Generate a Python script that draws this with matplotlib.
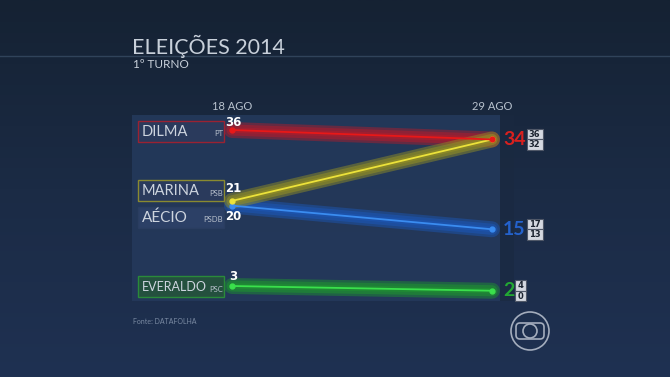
import matplotlib.pyplot as plt
import matplotlib.patches as mpatches
from matplotlib.colors import LinearSegmentedColormap
import numpy as np

# data
candidates = ['DILMA', 'MARINA', 'AÉCIO', 'EVERALDO']
parties = ['PT', 'PSB', 'PSDB', 'PSC']
date_labels = ['18 AGO', '29 AGO']
days = [18, 29]
poll_18 = [36, 21, 20, 3]
poll_29 = [34, 34, 15, 2]
upper_29 = [36, 36, 17, 4]
lower_29 = [32, 32, 13, 0]

# styles
band_col = ['#a81e2e', '#8f8c26', '#1c55b0', '#1f8e32']
line_col = ['#e81818', '#ece23a', '#3a8cf0', '#3ae04c']
text_col = ['#d8201e', '#d8c020', '#2462cc', '#22a833']
box_edge = ['#9a2232', '#8a8a30', '#2a3d60', '#2a8a3a']
box_fill = ['#2a3a5c', '#2a3a5c', '#2c4066', '#24503e']
name_y = [131, 190, 217, 286]          # label box centres, px
name_size = [10.5, 10.5, 11, 9]
val_off = [-8, -12, 11, -10]           # left value offsets, px
W, H = 670, 377

fig = plt.figure(figsize=(6.7, 3.77), dpi=100)

# background axes in pixel coords
bg = fig.add_axes([0, 0, 1, 1])
cmap = LinearSegmentedColormap.from_list('bg', ['#152233', '#1b2b45', '#1f3152'])
grad = np.linspace(0, 1, 200).reshape(-1, 1)
bg.imshow(grad, extent=[0, W, H, 0], aspect='auto', cmap=cmap)
bg.set_xlim(0, W)
bg.set_ylim(H, 0)
bg.axis('off')

bg.plot([0, W], [56, 56], color='#30435a', lw=1)
bg.text(132, 46, 'ELEIÇÕES 2014', fontsize=15.5, color='#c8d0da', family='Lato',
        va='center', ha='left')
bg.text(133, 65, '1º TURNO', fontsize=8.5, color='#c8d0da', family='Lato',
        va='center', ha='left')

# panel
bg.add_patch(mpatches.Rectangle((132, 115), 368, 186, facecolor='#24395b',
                                edgecolor='none', alpha=0.9))
bg.add_patch(mpatches.Rectangle((500, 115), 14, 186, facecolor='#1a2940',
                                edgecolor='none', alpha=0.6))

# name label boxes
for i, name in enumerate(candidates):
    y = name_y[i]
    bg.add_patch(mpatches.Rectangle((138, y - 10.5), 86, 21, facecolor=box_fill[i],
                                    edgecolor=box_edge[i], lw=1))
    bg.text(142, y + 1, name, fontsize=name_size[i], color='#cdd4de', family='Lato',
            va='center', ha='left')
    bg.text(223, y + 3, parties[i], fontsize=5.5, color='#b8c0cc', family='Lato',
            va='center', ha='right')

bg.text(133, 322, 'Fonte: DATAFOLHA', fontsize=5, color='#7a8aa2', family='Lato',
        va='center', ha='left')

# data axes
x_px, v_px = (232, 492), (130, 286)
dx = (days[1] - days[0]) / (x_px[1] - x_px[0])
dv = (poll_18[0] - poll_18[3]) / (v_px[1] - v_px[0])
ax = fig.add_axes([0, 0, 1, 1], zorder=2)
ax.patch.set_visible(False)
ax.set_xlim(days[0] - x_px[0] * dx, days[0] + (W - x_px[0]) * dx)
ax.set_ylim(poll_18[0] - (H - v_px[0]) * dv, poll_18[0] + v_px[0] * dv)
ax.axis('off')

for i, d in enumerate(date_labels):
    ax.annotate(d, (days[i], 41), xytext=(0, 0), textcoords='offset points',
                ha='center', va='center', fontsize=8, color='#b8c2ce', family='Lato')

order = [3, 2, 0, 1]
for i in order:
    ys = [poll_18[i], poll_29[i]]
    ax.plot(days, ys, color=band_col[i], lw=11.5, alpha=0.5,
            solid_capstyle='round', zorder=3)
    ax.plot(days, ys, color=band_col[i], lw=8, alpha=0.6,
            solid_capstyle='round', zorder=3)
    ax.plot(days, ys, color=band_col[i], lw=4, alpha=0.7,
            solid_capstyle='round', zorder=3)
for i in [3, 2, 1, 0]:
    ax.plot(days, [poll_18[i], poll_29[i]], color=line_col[i], lw=1.3, zorder=4,
            marker='o', markersize=3.5)

for i in range(len(candidates)):
    ax.annotate(str(poll_18[i]), (days[0], poll_18[i]), xytext=(1, -val_off[i] * 0.72),
                textcoords='offset points', ha='center', va='center', fontsize=8.5,
                color='white', fontweight='bold', family='DejaVu Sans', zorder=6)

r = fig.canvas.get_renderer()
shown = set()
for i in range(len(candidates)):
    if poll_29[i] in shown:
        continue
    shown.add(poll_29[i])
    t = ax.annotate(str(poll_29[i]), (days[1], poll_29[i]), xytext=(8, 0),
                    textcoords='offset points', ha='left', va='center', fontsize=14,
                    color=text_col[i], family='Lato', fontweight='bold', zorder=6)
    bb = t.get_window_extent(renderer=r)
    yc = H - (bb.y0 + bb.y1) / 2
    x0 = bb.x1 + 1
    bw = 6 + 5 * len(str(upper_29[i]))
    for k, val in enumerate([upper_29[i], lower_29[i]]):
        y0 = yc - 10.5 + k * 10.5
        bg.add_patch(mpatches.Rectangle((x0, y0), bw, 10.5, facecolor='#d4d8e0',
                                        edgecolor='#505868', lw=0.8, zorder=5))
        bg.text(x0 + bw / 2, y0 + 5.5, str(val), fontsize=6, color='#1c2430',
                fontweight='bold', ha='center', va='center', zorder=6)

# logo
lg = fig.add_axes([508 / W, 1 - 353 / H, 44 / W, 44 / H], zorder=3)
lg.set_xlim(-22, 22)
lg.set_ylim(-22, 22)
lg.axis('off')
lc = '#a4adbd'
lg.add_patch(mpatches.Circle((0, 0), 19, fill=False, edgecolor=lc, lw=1.2))
lg.add_patch(mpatches.FancyBboxPatch((-11, -5), 22, 10,
                                     boxstyle='round,pad=3,rounding_size=4',
                                     fill=False, edgecolor=lc, lw=1.2))
lg.add_patch(mpatches.Circle((0, 0), 7, fill=False, edgecolor=lc, lw=1.2))

fig.savefig('out.png', dpi=100)
